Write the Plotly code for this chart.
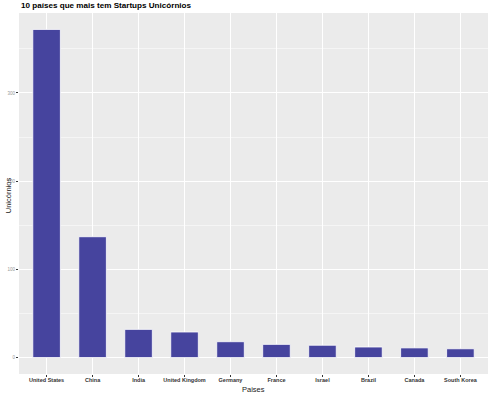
import plotly.graph_objects as go

paises = ["United States", "China", "India", "United Kingdom", "Germany",
          "France", "Israel", "Brazil", "Canada", "South Korea"]
unicornios = [372, 137, 32, 29, 18, 15, 14, 12, 11, 10]
y_ticks = [0, 100, 200, 300]

fig = go.Figure(go.Bar(
    x=paises, y=unicornios, width=0.6,
    marker=dict(color="rgb(70,68,158)", line=dict(color="rgba(255,255,255,0.8)", width=1)),
))

fig.update_layout(
    width=491, height=393,
    margin=dict(l=19, r=3, t=13, b=19, autoexpand=False),
    paper_bgcolor="white", plot_bgcolor="#EBEBEB",
    showlegend=False,
    font=dict(family="Liberation Sans, Arial, sans-serif"),
    annotations=[
        dict(text="<b>10 países que mais tem Startups Unicórnios</b>", xref="paper", yref="paper",
             x=0.0, y=1.02, xanchor="left", yanchor="middle", showarrow=False,
             font=dict(size=8.1, color="black")),
        dict(text="Paises", xref="paper", yref="paper", x=0.5, y=-0.043,
             xanchor="center", yanchor="middle", showarrow=False,
             font=dict(size=7.5, color="#222222")),
        dict(text="Unicórnios", xref="paper", yref="paper", x=-0.0235, y=0.495,
             xanchor="center", yanchor="middle", textangle=-90, showarrow=False,
             font=dict(size=7.5, color="#222222")),
    ],
)
fig.update_xaxes(
    range=[-0.6, 9.6], showgrid=True, gridcolor="white", gridwidth=1,
    ticks="outside", ticklen=2, tickcolor="#333333", automargin=False,
    ticklabelstandoff=-2,
    tickfont=dict(size=5.5, color="#333333", family="Liberation Sans, Arial, sans-serif", weight="bold"),
    zeroline=False, showline=False,
)
fig.update_yaxes(
    range=[-18.6, 390.6], tickvals=y_ticks, showgrid=True, gridcolor="white", gridwidth=1,
    minor=dict(tickvals=[50, 150, 250, 350], showgrid=True, gridcolor="#F5F5F5", gridwidth=0.5),
    ticks="outside", ticklen=2, tickcolor="#333333", automargin=False,
    tickfont=dict(size=4.5, color="#999999"),
    zeroline=False, showline=False,
)

fig.write_html("out.html", config={"displayModeBar": False},
               post_script="document.body.style.margin='0';document.body.style.overflow='hidden';")
